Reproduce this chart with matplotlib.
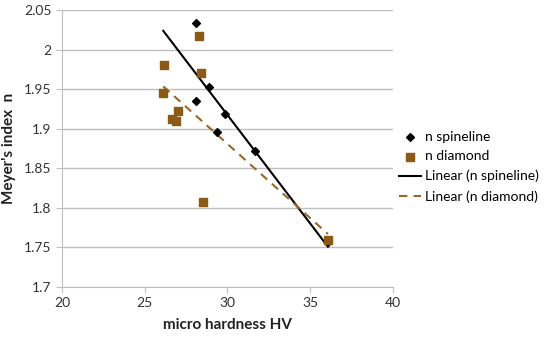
import matplotlib
matplotlib.use("Agg")
import matplotlib.pyplot as plt
import numpy as np

plt.rcParams['font.family'] = ['Lato', 'DejaVu Sans']

spin_x = [28.1, 28.88, 28.08, 29.83, 29.39, 31.66, 36.07]
spin_y = [2.034, 1.953, 1.935, 1.919, 1.896, 1.872, 1.757]
dia_x = [28.3, 26.14, 28.38, 26.12, 27.0, 26.65, 26.9, 28.5, 36.07]
dia_y = [2.017, 1.980, 1.970, 1.9455, 1.923, 1.912, 1.910, 1.808, 1.760]

xticks = [20, 25, 30, 35, 40]
yticks = [1.7, 1.75, 1.8, 1.85, 1.9, 1.95, 2.0, 2.05]
ytick_labels = ["1.7", "1.75", "1.8", "1.85", "1.9", "1.95", "2", "2.05"]

fig = plt.figure(figsize=(5.5, 3.38), dpi=100)
ax = fig.add_axes([0.1127, 0.1509, 0.6018, 0.8195])

grid_c = "#BFBFBF"
ax.set_xlim(20, 40)
ax.set_ylim(1.7, 2.05)
ax.set_yticks(yticks)
ax.set_yticklabels(ytick_labels)
ax.set_xticks(xticks)
ax.yaxis.grid(True, color=grid_c, linewidth=1)
ax.set_axisbelow(True)
for s in ["top", "right"]:
    ax.spines[s].set_visible(False)
for s in ["left", "bottom"]:
    ax.spines[s].set_color(grid_c)
ax.tick_params(axis="both", colors=grid_c, labelcolor="#333333", labelsize=10, length=4, direction="out")

brown = "#8B5A14"
ax.scatter(spin_x, spin_y, marker="D", s=16, color="black", zorder=3, label="n spineline")
ax.scatter(dia_x, dia_y, marker="s", s=36, color=brown, zorder=3, label="n diamond")

xr = np.array([min(min(spin_x), min(dia_x)), max(max(spin_x), max(dia_x))])
p1 = np.polyfit(spin_x, spin_y, 1)
p2 = np.polyfit(dia_x, dia_y, 1)
ax.plot(xr, np.polyval(p1, xr), color="black", linewidth=1.5, label="Linear (n spineline)", zorder=2)
ax.plot(xr, np.polyval(p2, xr), color="#99662A", linewidth=1.5, linestyle=(0, (4, 3)), label="Linear (n diamond)", zorder=2)

ax.set_xlabel("micro hardness HV", fontsize=11, fontweight="bold", color="#222222", labelpad=6)
ax.set_ylabel("Meyer's index  n", fontsize=11, fontweight="bold", color="#222222", labelpad=6)

leg = fig.legend(loc="upper left", bbox_to_anchor=(0.715, 0.63), frameon=False, fontsize=10,
                 handlelength=1.6, handletextpad=0.3, labelspacing=0.55, borderaxespad=0)

fig.savefig("out.png", dpi=100)
